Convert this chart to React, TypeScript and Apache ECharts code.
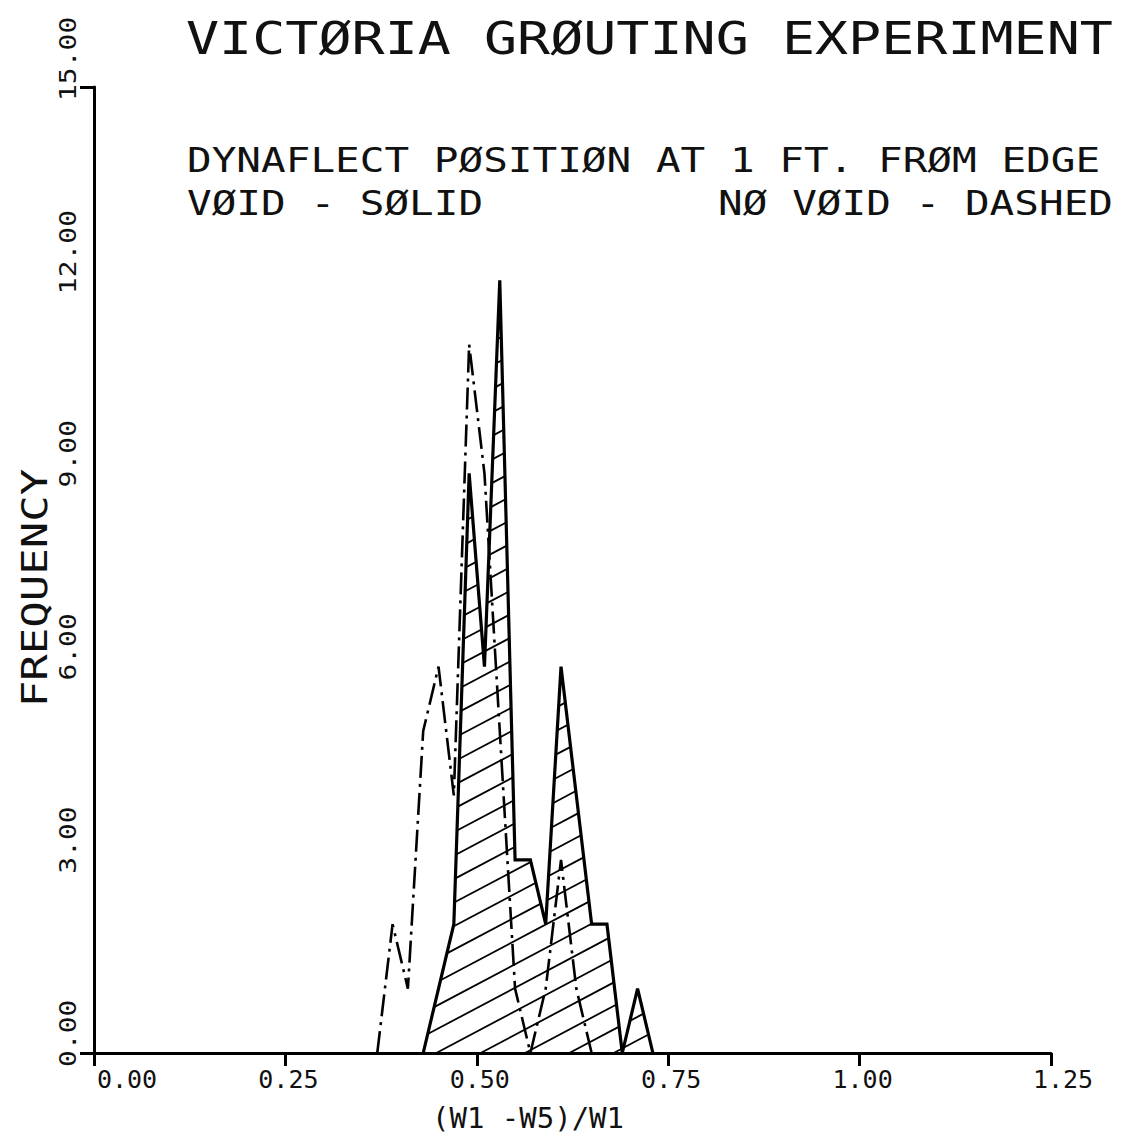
import React, { useEffect, useRef } from 'react';
import * as echarts from 'echarts';

// ---- data ----
const xTicks = [0, 0.25, 0.5, 0.75, 1.0, 1.25];
const xTickLabels = ['0.00', '0.25', '0.50', '0.75', '1.00', '1.25'];
const yTicks = [0, 3, 6, 9, 12, 15];
const yTickLabels = ['0.00', '3.00', '6.00', '9.00', '12.00', '15.00'];

// VOID (solid, hatched)
const voidX = [0.43, 0.45, 0.47, 0.49, 0.51, 0.53, 0.55, 0.57, 0.59, 0.61, 0.63, 0.65, 0.67, 0.69, 0.71, 0.73];
const voidFreq = [0, 1, 2, 9, 6, 12, 3, 3, 2, 6, 4, 2, 2, 0, 1, 0];

// NO VOID (dash-dot)
const noVoidX = [0.37, 0.39, 0.41, 0.43, 0.45, 0.47, 0.49, 0.51, 0.53, 0.55, 0.57, 0.59, 0.61, 0.63, 0.65];
const noVoidFreq = [0, 2, 1, 5, 6, 4, 11, 9, 5, 1, 0, 1, 3, 1, 0];

const titleText = 'VICTØRIA GRØUTING EXPERIMENT';
const subtitle1 = 'DYNAFLECT PØSITIØN AT 1 FT. FRØM EDGE';
const legendVoid = 'VØID - SØLID';
const legendNoVoid = 'NØ VØID - DASHED';
const xAxisTitle = '(W1 -W5)/W1';
const yAxisTitle = 'FREQUENCY';

const FONT = '"DejaVu Sans Mono", "Liberation Mono", monospace';
const INK = '#111';

export default function App() {
  const ref = useRef<HTMLDivElement>(null);

  useEffect(() => {
    if (!ref.current) return;
    const chart = echarts.init(ref.current, null, { renderer: 'svg' });

    const HATCH_SLOPE = 0.53;
    const HATCH_GAP = 23.5;

    const hatchSeries = {
      type: 'custom',
      silent: true,
      clip: false,
      z: 1,
      data: [[0, 0]],
      renderItem: (_params: any, api: any) => {
        const poly = voidX.map((x, i) => api.coord([x, voidFreq[i]]));
        const ref0 = api.coord([0.505, 0]);
        const phase = ref0[1] + HATCH_SLOPE * ref0[0];
        let bmin = Infinity;
        let bmax = -Infinity;
        poly.forEach((p: number[]) => {
          const b = p[1] + HATCH_SLOPE * p[0];
          bmin = Math.min(bmin, b);
          bmax = Math.max(bmax, b);
        });
        const children: any[] = [];
        const n = poly.length;
        const start = phase + Math.ceil((bmin - phase) / HATCH_GAP) * HATCH_GAP;
        for (let b = start; b <= bmax; b += HATCH_GAP) {
          const xs: number[] = [];
          for (let i = 0; i < n; i++) {
            const p = poly[i];
            const q = poly[(i + 1) % n];
            const fp = p[1] + HATCH_SLOPE * p[0] - b;
            const fq = q[1] + HATCH_SLOPE * q[0] - b;
            if ((fp < 0) !== (fq < 0)) {
              const t = fp / (fp - fq);
              xs.push(p[0] + t * (q[0] - p[0]));
            }
          }
          xs.sort((a, c) => a - c);
          for (let k = 0; k + 1 < xs.length; k += 2) {
            children.push({
              type: 'line',
              shape: {
                x1: xs[k], y1: b - HATCH_SLOPE * xs[k],
                x2: xs[k + 1], y2: b - HATCH_SLOPE * xs[k + 1],
              },
              style: { stroke: '#000', lineWidth: 1.8 },
            });
          }
        }
        return { type: 'group', children };
      },
    };

    const lblFont = { fontFamily: FONT, fontSize: 25, color: INK };

    chart.setOption({
      animation: false,
      backgroundColor: '#ffffff',
      grid: { left: 94, right: 70, top: 87, bottom: 85 },
      xAxis: {
        type: 'value',
        min: 0,
        max: 1.25,
        interval: 0.25,
        axisLine: { lineStyle: { color: '#000', width: 3 } },
        axisTick: { show: true, length: 13, lineStyle: { color: '#000', width: 3 } },
        splitLine: { show: false },
        axisLabel: {
          formatter: (v: number) => {
            const i = xTicks.findIndex((t) => Math.abs(t - v) < 1e-6);
            if (i < 0) return '';
            const key = i === 0 ? 'first' : i === xTicks.length - 1 ? 'last' : 'mid';
            return `{${key}|${xTickLabels[i]}}`;
          },
          margin: 14,
          rich: {
            first: { ...lblFont, padding: [0, 0, 0, 66] },
            mid: { ...lblFont, padding: [0, 0, 0, 6] },
            last: { ...lblFont, padding: [0, 0, 0, 24] },
          },
        },
      },
      yAxis: {
        type: 'value',
        min: 0,
        max: 15,
        interval: 3,
        axisLine: { show: true, lineStyle: { color: '#000', width: 3 } },
        axisTick: { show: true, customValues: [0, 15], length: 14, lineStyle: { color: '#000', width: 3 } },
        axisLabel: { show: false },
        splitLine: { show: false },
      },
      series: [
        hatchSeries,
        {
          type: 'line',
          name: 'VOID',
          data: voidX.map((x, i) => [x, voidFreq[i]]),
          symbol: 'none',
          z: 3,
          lineStyle: { color: '#000', width: 3.2, type: 'solid', join: 'miter' },
        },
        {
          type: 'line',
          name: 'NO VOID',
          data: noVoidX.map((x, i) => [x, noVoidFreq[i]]),
          symbol: 'none',
          z: 4,
          lineStyle: { color: '#000', width: 2.6, type: [22, 6, 3, 6] },
        },
      ],
    });

    const thin = { stroke: '#ffffff', lineWidth: 2, strokeFirst: false };

    const yLabelGraphics = yTicks.map((v, i) => {
      const py = chart.convertToPixel({ yAxisIndex: 0 }, v) as number;
      return {
        type: 'text',
        x: 68,
        y: py + 14,
        rotation: Math.PI / 2,
        scaleY: 0.85,
        style: {
          text: yTickLabels[i],
          font: `28px ${FONT}`,
          fill: INK,
          align: 'left',
          verticalAlign: 'middle',
          ...thin,
        },
      };
    });

    chart.setOption({
      graphic: [
        {
          type: 'text', x: 186, y: 38, scaleY: 0.82,
          style: { text: titleText, font: `55px ${FONT}`, fill: INK, align: 'left', verticalAlign: 'middle', ...thin },
        },
        {
          type: 'text', x: 187, y: 160, scaleY: 0.82,
          style: { text: subtitle1, font: `41px ${FONT}`, fill: INK, align: 'left', verticalAlign: 'middle', ...thin },
        },
        {
          type: 'text', x: 187, y: 203, scaleY: 0.82,
          style: { text: legendVoid, font: `41px ${FONT}`, fill: INK, align: 'left', verticalAlign: 'middle', ...thin },
        },
        {
          type: 'text', x: 1113, y: 203, scaleY: 0.82,
          style: { text: legendNoVoid, font: `41px ${FONT}`, fill: INK, align: 'right', verticalAlign: 'middle', ...thin },
        },
        {
          type: 'text', x: 35, y: 588, rotation: Math.PI / 2, scaleY: 0.8,
          style: { text: yAxisTitle, font: `44px ${FONT}`, fill: INK, align: 'center', verticalAlign: 'middle', ...thin },
        },
        {
          type: 'text', x: 528, y: 1118,
          style: { text: xAxisTitle, font: `29px ${FONT}`, fill: INK, align: 'center', verticalAlign: 'middle', ...thin },
        },
        ...yLabelGraphics,
      ],
    });

    return () => chart.dispose();
  }, []);

  return (
    <div
      ref={ref}
      style={{ position: 'fixed', left: 0, top: 0, width: 1121, height: 1138, background: '#fff' }}
    />
  );
}
